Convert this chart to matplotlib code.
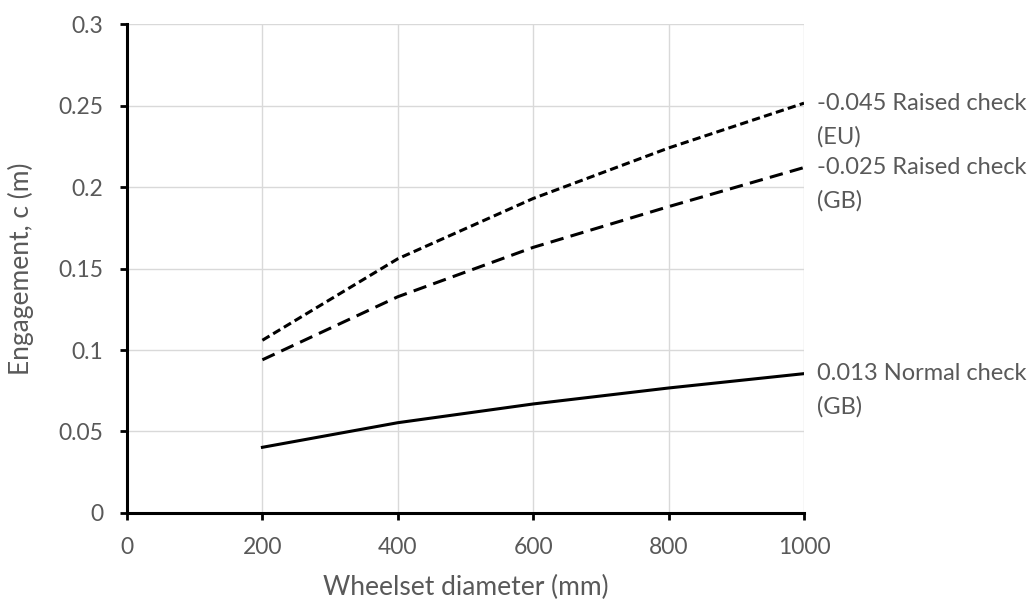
import matplotlib
matplotlib.use("Agg")
import matplotlib.pyplot as plt
from matplotlib.ticker import FuncFormatter

# wheelset diameter (mm) and engagement c (m)
diameter = [200, 400, 600, 800, 1000]
eu_raised = [0.106, 0.156, 0.193, 0.224, 0.2515]
gb_raised = [0.094, 0.1327, 0.163, 0.188, 0.212]
gb_normal = [0.0403, 0.0554, 0.0669, 0.0767, 0.0855]

labels = [("-0.045 Raised check", "(EU)"),
          ("-0.025 Raised check", "(GB)"),
          ("0.013 Normal check", "(GB)")]

plt.rcParams["font.family"] = ["Lato", "DejaVu Sans"]
grey = "#595959"

fig = plt.figure(figsize=(10.36, 6.03), dpi=100)
ax = fig.add_axes([0.1226, 0.1493, 0.6535, 0.8107])

ax.plot(diameter, eu_raised, color="black", lw=2.2, dashes=(2.7, 1.4))
ax.plot(diameter, gb_raised, color="black", lw=2.2, dashes=(4.4, 2.4))
ax.plot(diameter, gb_normal, color="black", lw=2.2)

# series names sit at the right-hand end of each line
for series, (l1, l2) in zip([eu_raised, gb_raised, gb_normal], labels):
    ax.annotate(l1, xy=(diameter[-1], series[-1]), xytext=(9, 0),
                textcoords="offset points", color=grey, fontsize=17,
                va="center", ha="left", annotation_clip=False)
    ax.annotate(l2, xy=(diameter[-1], series[-1]), xytext=(9, -24),
                textcoords="offset points", color=grey, fontsize=17,
                va="center", ha="left", annotation_clip=False)

ax.set_xlim(0, 1000)
ax.set_ylim(0, 0.3)
ax.set_xticks([0, 200, 400, 600, 800, 1000])
ax.set_yticks([0, 0.05, 0.1, 0.15, 0.2, 0.25, 0.3])
ax.yaxis.set_major_formatter(FuncFormatter(lambda v, p: "%g" % round(v, 3)))
ax.grid(True, color="#d9d9d9", lw=1.0)
ax.set_axisbelow(True)

for s in ["top", "right"]:
    ax.spines[s].set_visible(False)
for s in ["left", "bottom"]:
    ax.spines[s].set_linewidth(2.2)
    ax.spines[s].set_color("black")
ax.tick_params(direction="out", length=5, width=2.0, colors="black",
               labelcolor=grey, labelsize=16.5, pad=12)

ax.set_xlabel("Wheelset diameter (mm)", color=grey, fontsize=19)
ax.set_ylabel("Engagement, c (m)", color=grey, fontsize=19)
ax.xaxis.set_label_coords(0.5, -0.127)
ax.yaxis.set_label_coords(-0.138, 0.5)

fig.savefig("out.png", dpi=100)
